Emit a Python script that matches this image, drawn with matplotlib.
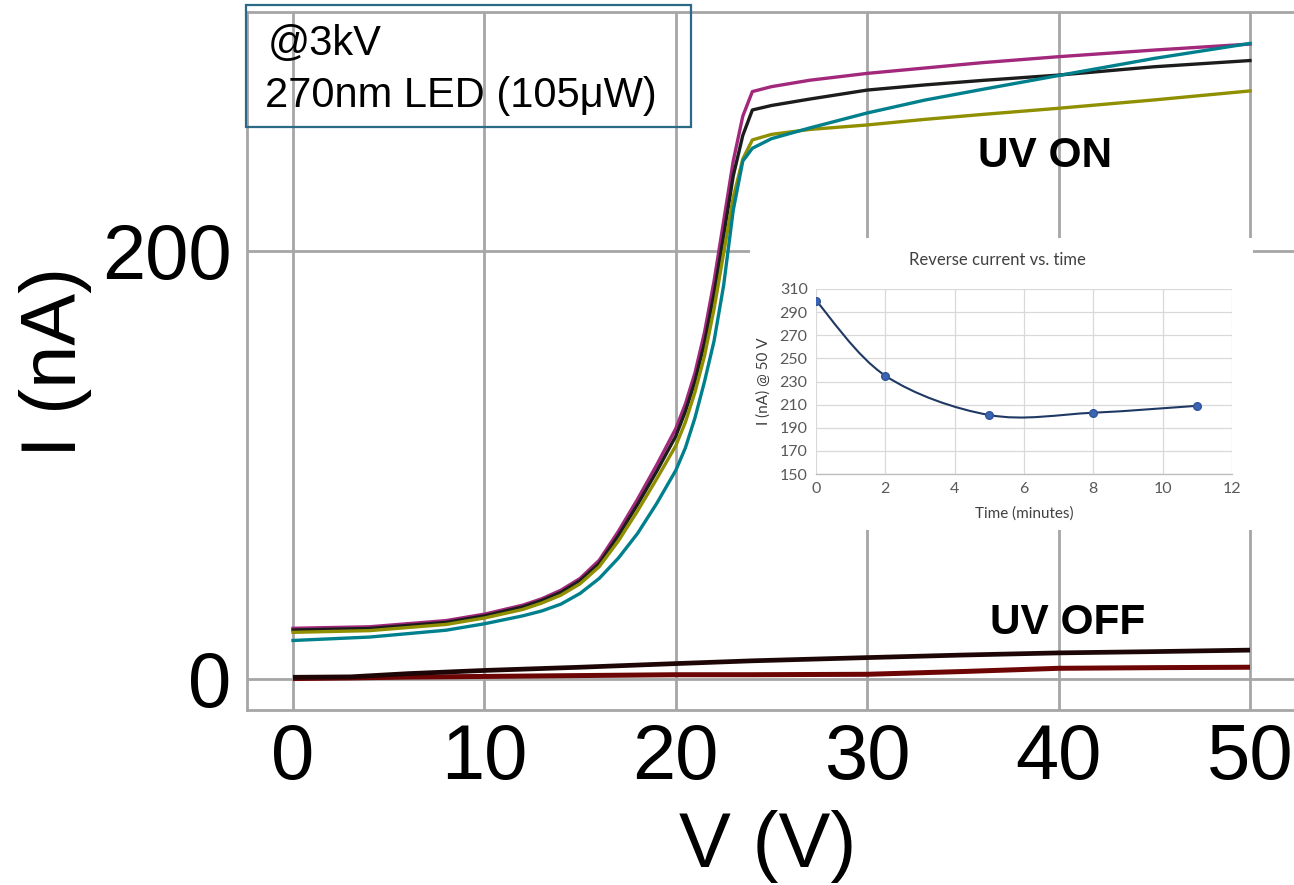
import numpy as np
import matplotlib
matplotlib.use("Agg")
import matplotlib.pyplot as plt
from matplotlib.path import Path
from matplotlib.patches import PathPatch, Rectangle

# ---------------- data ----------------
V_on = [0, 4, 8, 10, 12, 13, 14, 15, 16, 17, 18, 19, 20, 20.5, 21, 21.5, 22, 22.5,
        23, 23.5, 24, 25, 27, 30, 33, 36, 40, 45, 50]
I_on_magenta = [23.7, 24.4, 27.3, 30.3, 34.5, 37.5, 41.5, 47, 55.5, 69, 84, 100, 117, 128.5,
                143, 162, 186, 214, 242, 263, 274.5, 276.8, 279.8, 283, 285.5, 288, 290.8,
                293.9, 296.7]
I_on_black = [22.9, 23.6, 26.5, 29.5, 33.7, 36.7, 40.5, 46, 54, 67, 81.5, 97, 113.5, 125,
              139, 157, 180, 207, 235, 254, 265.9, 268, 271, 275.2, 277.6, 279.7, 282.2,
              286.1, 289]
I_on_olive = [21.8, 22.6, 25.5, 28.5, 32.5, 35.5, 39.2, 44.5, 52.5, 64.5, 78.5, 93.5, 109, 120,
              134, 151, 173, 199, 225, 243, 251.9, 254.5, 256.8, 258.9, 261.5, 263.8, 266.7,
              270.6, 274.8]
I_on_teal = [18.0, 19.6, 22.8, 25.8, 29.5, 31.8, 35, 40, 47, 56.5, 68, 82, 97.5, 108,
             122, 139, 158, 184, 219, 242, 248, 252.5, 257.5, 264.5, 270.5, 275.5, 282,
             290, 297]

V_off = [0, 3, 6, 10, 15, 20, 24, 30, 35, 40, 45, 50]
I_off_black = [0.8, 1.0, 2.5, 4.0, 5.5, 7.2, 8.5, 10.0, 11.2, 12.2, 12.8, 13.5]
I_off_red = [0.2, 0.5, 0.9, 1.2, 1.6, 2.0, 2.0, 2.2, 3.5, 5.0, 5.3, 5.5]

x_ticks = [0, 10, 20, 30, 40, 50]
y_ticks = [0, 200]

# inset: reverse current vs time
t_min = [0, 2, 5, 8, 11]
I_50V = [300, 235, 201, 203, 209]
inset_xticks = [0, 2, 4, 6, 8, 10, 12]
inset_yticks = [150, 170, 190, 210, 230, 250, 270, 290, 310]

# ---------------- figure ----------------
W, H = 1294, 885
fig = plt.figure(figsize=(W / 100, H / 100), dpi=100)


def fx(px):
    return px / W


def fy(py):
    return 1 - py / H


grid_c = "#A6A6A6"
ax_left, ax_right, ax_top, ax_bot = 247, 1300, 12, 710
ax = fig.add_axes([fx(ax_left), fy(ax_bot), (ax_right - ax_left) / W, (ax_bot - ax_top) / H])
xs = (1250 - 293) / 50.0
ys = (679 - 251) / 200.0
ax.set_xlim(-(293 - ax_left) / xs, (ax_right - 293) / xs)
ax.set_ylim(-(ax_bot - 679) / ys, (679 - ax_top) / ys)

ax.set_xticks(x_ticks)
ax.set_yticks(y_ticks)
ax.grid(True, color=grid_c, lw=2.0, zorder=0)
ax.set_axisbelow(True)
for s in ["left", "top", "bottom", "right"]:
    ax.spines[s].set_color(grid_c)
    ax.spines[s].set_linewidth(2.0)
ax.tick_params(length=0, labelsize=56)
ax.tick_params(axis="x", pad=9)
ax.tick_params(axis="y", pad=11)
for lab in ax.get_xticklabels() + ax.get_yticklabels():
    lab.set_fontfamily("Liberation Sans")

# UV OFF curves
ax.plot(V_off, I_off_red, color="#6E0505", lw=3.6, solid_capstyle="butt", zorder=3)
ax.plot(V_off, I_off_black, color="#1E0606", lw=3.4, solid_capstyle="butt", zorder=3)

# UV ON curves
ax.plot(V_on, I_on_magenta, color="#A2287C", lw=2.4, zorder=4)
ax.plot(V_on, I_on_black, color="#1C1C1C", lw=2.4, zorder=4)
ax.plot(V_on, I_on_olive, color="#8F8F00", lw=2.4, zorder=4)
ax.plot(V_on, I_on_teal, color="#00808C", lw=2.4, zorder=4)

ax.set_xlabel("V (V)", fontsize=56, fontfamily="Liberation Sans")
ax.xaxis.set_label_coords((768 - ax_left) / (ax_right - ax_left), -(867 - ax_bot) / (ax_bot - ax_top))
ax.xaxis.label.set_verticalalignment("baseline")
ax.set_ylabel("I (nA)", fontsize=56, fontfamily="Liberation Sans")
ax.yaxis.set_label_coords(-(ax_left - 56) / (ax_right - ax_left), (ax_bot - 362) / (ax_bot - ax_top))
ax.yaxis.label.set_verticalalignment("center")

ax.text((978 - 293) / xs, (679 - 167) / ys, "UV ON", fontsize=30.5, fontweight="bold",
        fontfamily="Liberation Sans", ha="left", va="baseline", zorder=6)
ax.text((990 - 293) / xs, (679 - 634) / ys, "UV OFF", fontsize=30.5, fontweight="bold",
        fontfamily="Liberation Sans", ha="left", va="baseline", zorder=6)

# annotation box
fig.patches.append(Rectangle((fx(246), fy(127)), fx(691) - fx(246), fy(5) - fy(127),
                             transform=fig.transFigure, fill=False, edgecolor="#2B6A87",
                             lw=1.6, zorder=10))
fig.text(fx(268), fy(55), "@3kV", fontsize=30, fontfamily="Liberation Sans", va="baseline", ha="left")
fig.text(fx(265), fy(107), "270nm LED (105\u03bcW)", fontsize=30, fontfamily="Liberation Sans",
         va="baseline", ha="left")

# ---------------- inset ----------------
bg = fig.add_axes([fx(750), fy(530), fx(1253) - fx(750), fy(238) - fy(530)])
bg.set_facecolor("white")
bg.set_xticks([])
bg.set_yticks([])
for s in bg.spines.values():
    s.set_visible(False)
bg.set_zorder(5)

ins_l, ins_r = 816, 1232
ins = fig.add_axes([fx(ins_l), fy(474), fx(ins_r) - fx(ins_l), fy(289) - fy(474)])
ins.set_zorder(6)
ins.set_facecolor("white")
ins.set_xlim(0, 12)
ins.set_ylim(150, 310)
ins.set_xticks(inset_xticks)
ins.set_yticks(inset_yticks)
ins.grid(True, color="#D9D9D9", lw=0.9)
ins.set_axisbelow(True)
for s in ["top", "right", "left"]:
    ins.spines[s].set_visible(False)
ins.spines["bottom"].set_color("#BFBFBF")
ins.spines["bottom"].set_linewidth(1.0)
ins.tick_params(length=0, labelsize=11.5, labelcolor="#595959", pad=6)
for lab in ins.get_xticklabels() + ins.get_yticklabels():
    lab.set_fontfamily("Lato")

# smoothed line (Excel-like Catmull-Rom as cubic Bezier)
pts = np.column_stack([t_min, I_50V]).astype(float)
verts = [tuple(pts[0])]
codes = [Path.MOVETO]
n = len(pts)
for i in range(n - 1):
    p0 = pts[i - 1] if i > 0 else pts[i]
    p1 = pts[i]
    p2 = pts[i + 1]
    p3 = pts[i + 2] if i + 2 < n else pts[i + 1]
    c1 = p1 + (p2 - p0) / 6.0
    c2 = p2 - (p3 - p1) / 6.0
    verts += [tuple(c1), tuple(c2), tuple(p2)]
    codes += [Path.CURVE4] * 3
ins.add_patch(PathPatch(Path(verts, codes), facecolor="none", edgecolor="#1F3864", lw=1.5, zorder=3))
ins.plot(t_min, I_50V, linestyle="none", marker="o", markersize=5.5,
         markerfacecolor="#3C64B4", markeredgecolor="#2F5597", zorder=4)

ins.set_title("Reverse current vs. time", fontsize=12, fontfamily="Lato", color="#404040", pad=17,
              x=(997 - ins_l) / (ins_r - ins_l))
ins.set_xlabel("Time (minutes)", fontsize=11, fontfamily="Lato", color="#404040", labelpad=7)
ins.set_ylabel("I (nA) @ 50 V", fontsize=11, fontfamily="Lato", color="#404040", labelpad=6)

fig.savefig("out.png", dpi=100)
